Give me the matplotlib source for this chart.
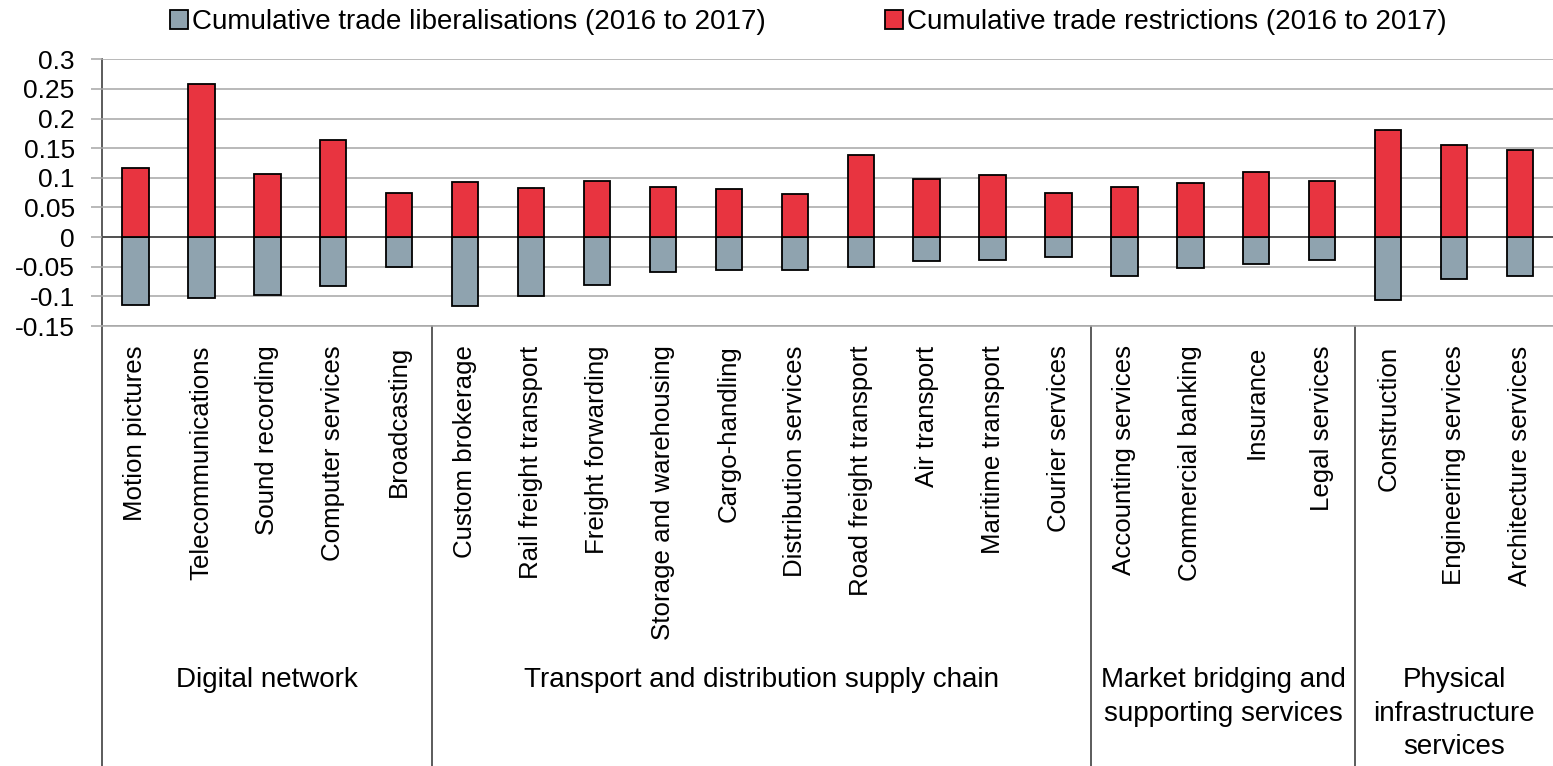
import matplotlib
matplotlib.use("Agg")
import matplotlib.pyplot as plt
import matplotlib.transforms as mtransforms
import numpy as np

plt.rcParams['font.family'] = ['Liberation Sans', 'DejaVu Sans']

sectors = ["Motion pictures", "Telecommunications", "Sound recording", "Computer services",
           "Broadcasting", "Custom brokerage", "Rail freight transport", "Freight forwarding",
           "Storage and warehousing", "Cargo-handling", "Distribution services",
           "Road freight transport", "Air transport", "Maritime transport", "Courier services",
           "Accounting services", "Commercial banking", "Insurance", "Legal services",
           "Construction", "Engineering services", "Architecture services"]

restrictions = [0.116, 0.258, 0.106, 0.164, 0.074, 0.093, 0.083, 0.094, 0.085, 0.081, 0.0725,
                0.139, 0.098, 0.104, 0.074, 0.084, 0.091, 0.109, 0.094, 0.180, 0.155, 0.147]
liberalisations = [-0.114, -0.1035, -0.098, -0.083, -0.0505, -0.116, -0.100, -0.081, -0.059,
                   -0.055, -0.055, -0.051, -0.0405, -0.038, -0.034, -0.066, -0.052, -0.046,
                   -0.039, -0.106, -0.070, -0.066]

groups = ["Digital network", "Transport and distribution supply chain",
          "Market bridging and\nsupporting services", "Physical\ninfrastructure\nservices"]
group_sizes = [5, 10, 4, 3]

yticks = [-0.15, -0.1, -0.05, 0, 0.05, 0.1, 0.15, 0.2, 0.25, 0.3]
ytick_labels = ["-0.15", "-0.1", "-0.05", "0", "0.05", "0.1", "0.15", "0.2", "0.25", "0.3"]

red = "#e83440"
grey = "#8fa3af"

fig = plt.figure(figsize=(15.53, 7.66), dpi=100)
ax = fig.add_axes([0.066, 0.5744, 0.934, 0.3482])

x = np.arange(len(sectors))
b1 = ax.bar(x, liberalisations, width=0.4, color=grey, edgecolor="black", linewidth=1.3, zorder=3,
            label="Cumulative trade liberalisations (2016 to 2017)")
b2 = ax.bar(x, restrictions, width=0.4, color=red, edgecolor="black", linewidth=1.3, zorder=3,
            label="Cumulative trade restrictions (2016 to 2017)")

ax.set_xlim(-0.5, len(sectors) - 0.5)
ax.set_ylim(-0.15, 0.3)
ax.set_yticks(yticks)
ax.set_yticklabels(ytick_labels, fontsize=19)
ax.yaxis.grid(True, color="#a6a6a6", linewidth=1.1, zorder=0)
ax.axhline(0, color="#404040", linewidth=1.2, zorder=2)
ax.tick_params(axis="y", length=8, color="#a6a6a6", width=1.1, pad=12)

ax.set_xticks(x)
ax.set_xticklabels(sectors, rotation=90, fontsize=18.6)
ax.tick_params(axis="x", length=0, pad=14)

for s in ["top", "right", "left"]:
    ax.spines[s].set_visible(False)
ax.spines["bottom"].set_color("#a6a6a6")
ax.spines["bottom"].set_linewidth(1.1)

# group separators below the axis
pos = ax.get_position()
trans = mtransforms.blended_transform_factory(ax.transData, fig.transFigure)
edges = np.concatenate([[0], np.cumsum(group_sizes)]) - 0.5
for i, e in enumerate(edges[:-1]):
    top = pos.y1 if i == 0 else pos.y0
    ax.plot([e, e], [0, top], transform=trans, color="#404040", linewidth=1.2, clip_on=False, zorder=1)

for g, lo, hi in zip(groups, edges[:-1], edges[1:]):
    ax.text((lo + hi) / 2, 0.1290, g, transform=trans, ha="center", va="top",
            fontsize=20, linespacing=1.38)

fig.legend(handles=[b1, b2], loc="center", bbox_to_anchor=(0.5206, 0.971), ncol=2,
           frameon=False, fontsize=20, handlelength=0.65, handleheight=0.65,
           handletextpad=0.15, columnspacing=4.3, borderaxespad=0)

fig.savefig("out.png", dpi=100)
